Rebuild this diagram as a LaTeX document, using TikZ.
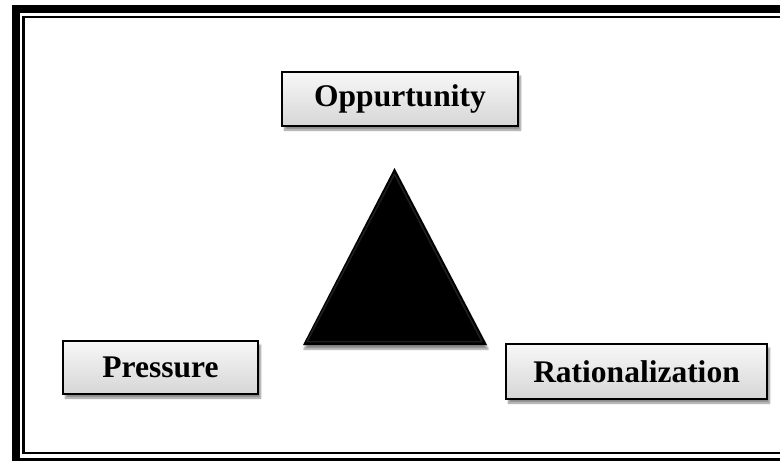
\documentclass[tikz,border=0pt]{standalone}
\usepackage{fontspec}
\setmainfont{Liberation Serif}
\usetikzlibrary{shadows.blur}
\begin{document}
\begin{tikzpicture}[x=1pt,y=-1pt,
  labelbox/.style={draw=black, line width=1.4pt, rectangle, inner sep=0pt,
    top color=gray!6, bottom color=gray!32,
    blur shadow={shadow xshift=2.5pt, shadow yshift=-4pt, shadow blur steps=6, shadow opacity=45},
    font=\bfseries\fontsize{31.5}{33}\selectfont},
  frameouter/.style={draw=black, line width=8pt},
  frameinner/.style={draw=black, line width=2.5pt}]
  \useasboundingbox (0,0) rectangle (780,461);
  \clip (0,0) rectangle (780,461);
  % double page frame
  \draw[frameouter] (16,9) rectangle (820,461.5);
  \draw[frameinner] (23.5,17) rectangle (810,453);
  % three labelled boxes
  \node[labelbox, minimum width=236pt, minimum height=54pt] (opp) at (400,99) {Oppurtunity};
  \node[labelbox, minimum width=195pt, minimum height=53pt] (pre) at (160.5,367.5) {Pressure};
  \node[labelbox, minimum width=261pt, minimum height=55pt] (rat) at (636.5,371.5) {Rationalization};
  % central triangle with a faint bevel
  \fill[black, blur shadow={shadow xshift=1pt, shadow yshift=-4pt, shadow blur steps=6, shadow opacity=45}]
    (394.5,168) -- (487,345) -- (303,345) -- cycle;
  \draw[black!88, line width=1.5pt, line join=round] (394.5,174) -- (482,341.5) -- (307,341.5) -- cycle;
  \fill[black] (394.5,180) -- (477,339) -- (312,339) -- cycle;
\end{tikzpicture}
\end{document}
